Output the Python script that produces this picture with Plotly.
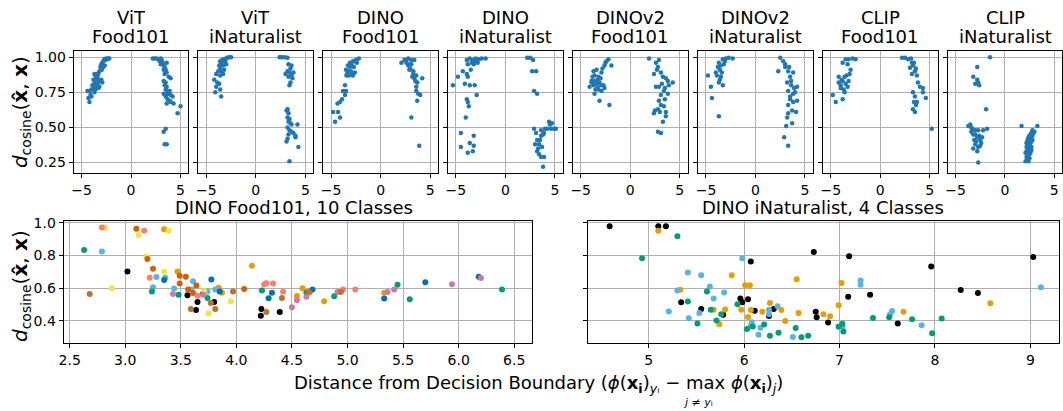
import plotly.graph_objects as go

# ---------------- data ----------------
panel_titles = [("ViT", "Food101"), ("ViT", "iNaturalist"), ("DINO", "Food101"), ("DINO", "iNaturalist"),
                ("DINOv2", "Food101"), ("DINOv2", "iNaturalist"), ("CLIP", "Food101"), ("CLIP", "iNaturalist")]

vit_food_x = [-2.2,-2.3,-2.4,-2.5,-2.6,-2.7,-2.8,-2.9,-2.65,-2.8,-3.0,-3.1,-2.95,-3.2,-3.3,-3.5,-3.6,-3.7,-3.4,-3.5,-3.2,-3.0,-2.9,-3.3,-3.6,-3.8,-3.4,-3.7,-3.9,-3.5,-3.3,-3.6,-3.8,-4.0,-4.2,-4.4,-3.7,-3.2,-4.1,-4.0,-4.3,-4.2,
              2.2,2.4,2.6,2.8,3.0,3.1,2.9,3.2,3.0,3.3,3.4,3.6,3.5,3.3,3.6,3.4,3.8,4.0,3.3,3.5,3.4,3.6,3.5,3.7,3.9,3.3,3.6,3.8,4.0,4.2,3.5,3.7,3.9,4.0,3.6,4.3,5.0,4.7,3.5,3.3,3.6,3.4]
vit_food_y = [0.99,0.99,0.985,0.99,0.98,0.985,0.97,0.96,0.94,0.93,0.95,0.93,0.91,0.90,0.88,0.88,0.87,0.88,0.86,0.85,0.84,0.84,0.82,0.82,0.83,0.84,0.80,0.81,0.80,0.79,0.78,0.77,0.78,0.77,0.76,0.76,0.75,0.79,0.73,0.72,0.71,0.68,
              0.99,0.99,0.99,0.985,0.99,0.98,0.97,0.96,0.95,0.94,0.93,0.96,0.91,0.91,0.89,0.88,0.86,0.85,0.83,0.82,0.80,0.79,0.77,0.76,0.76,0.74,0.74,0.74,0.73,0.72,0.72,0.70,0.69,0.68,0.67,0.67,0.65,0.60,0.49,0.47,0.38,0.38]

vit_inat_x = [-2.5,-2.7,-2.9,-3.0,-3.2,-3.4,-3.6,-3.3,-3.1,-3.5,-3.7,-3.3,-3.0,-3.6,-3.2,-3.5,-3.8,-3.3,-4.0,-3.6,-4.2,-3.9,-3.7,-4.0,-3.6,-4.1,-3.5,
              2.4,2.6,2.9,3.2,3.3,3.6,3.5,3.2,3.4,3.8,3.0,3.6,3.3,3.7,3.5,3.4,3.2,3.1,3.3,3.2,3.4,3.3,3.5,3.6,4.2,3.2,3.4,3.6,3.8,3.3,4.0,3.2,3.1,4.0,4.3,3.4]
vit_inat_y = [1.0,1.0,0.995,0.99,0.985,0.98,0.97,0.97,0.97,0.95,0.94,0.94,0.95,0.92,0.91,0.90,0.90,0.88,0.88,0.87,0.84,0.82,0.81,0.79,0.77,0.75,0.72,
              1.0,1.0,1.0,0.995,0.95,0.94,0.92,0.90,0.89,0.89,0.88,0.87,0.86,0.85,0.82,0.80,0.63,0.62,0.60,0.57,0.56,0.54,0.53,0.52,0.52,0.50,0.48,0.47,0.46,0.45,0.44,0.42,0.40,0.43,0.36,0.26]

dino_food_x = [-4.8,-4.6,-4.1,-4.3,-4.35,-4.1,-3.9,-3.6,-3.8,-3.5,-3.6,-3.45,-3.3,-3.1,-2.95,-2.8,-2.5,-2.2,-2.6,-2.9,-3.3,-3.5,-3.2,-2.7,-2.4,-3.0,-3.4,-2.8,-3.1,-2.6,
               2.1,2.4,2.6,2.8,3.1,3.4,2.8,3.1,2.6,3.0,3.3,2.9,3.6,3.2,3.4,3.7,3.5,3.6,3.6,4.0,4.2,3.7,3.8,3.1,3.9,3.3,2.9]
dino_food_y = [0.61,0.54,0.57,0.61,0.67,0.68,0.70,0.73,0.76,0.76,0.80,0.87,0.90,0.93,0.95,0.97,0.98,0.99,0.89,0.88,0.94,0.91,0.87,0.93,0.96,0.90,0.88,0.87,0.96,0.97,
               0.96,0.98,0.98,0.99,0.98,0.98,0.94,0.95,0.96,0.92,0.90,0.91,0.87,0.86,0.85,0.82,0.83,0.79,0.76,0.73,0.85,0.69,0.74,0.57,0.37,0.88,0.95]

dino_inat_x = [-3.9,-3.6,-3.3,-3.0,-2.7,-2.4,-2.0,-3.8,-3.4,-3.1,-2.8,-4.3,-4.8,-5.3,-3.9,-3.8,-4.1,-3.6,-3.1,-2.9,-3.9,-3.8,-3.7,-4.0,-4.5,-4.5,-3.8,-3.6,-3.2,-3.3,-3.2,-3.5,-3.2,
               2.2,2.5,2.8,2.7,3.1,2.9,3.2,2.9,3.6,4.2,4.7,5.1,4.4,3.9,3.6,3.2,3.4,3.7,3.2,3.6,3.8,3.9,3.1,4.6,4.9,4.5,4.0,3.5,3.3,3.8,3.4,3.0]
dino_inat_y = [0.98,0.99,0.98,0.99,0.985,0.99,0.99,0.95,0.96,0.97,0.96,0.90,0.86,0.80,0.88,0.86,0.81,0.80,0.80,0.73,0.70,0.68,0.65,0.57,0.46,0.36,0.32,0.39,0.44,0.33,0.37,0.91,0.95,
               0.995,0.995,0.98,0.90,0.90,0.76,0.74,0.49,0.48,0.49,0.53,0.49,0.54,0.46,0.44,0.41,0.38,0.36,0.33,0.29,0.22,0.29,0.46,0.49,0.49,0.52,0.49,0.41,0.35,0.45,0.31,0.38]

dinov2_food_x = [-4.1,-3.7,-3.6,-3.4,-3.2,-3.9,-3.7,-3.1,-2.7,-2.9,-2.6,-2.2,-2.5,-1.9,-2.1,-3.1,-3.6,-3.2,-3.4,-2.9,-3.8,-3.9,-2.6,-3.3,-3.0,-3.5,-2.8,-3.0,-2.4,-3.6,-3.3,
                 1.9,2.9,2.6,2.8,2.4,3.1,3.3,3.8,4.3,3.9,2.9,2.6,3.4,3.1,3.8,3.1,3.4,2.8,2.4,2.5,3.6,3.3,2.8,3.1,3.6,2.7,3.6,3.2,3.5,2.9,3.0,3.5]
dinov2_food_y = [0.79,0.90,0.87,0.91,0.86,0.83,0.80,0.82,0.80,0.76,0.94,0.985,0.96,0.94,0.66,0.69,0.74,0.77,0.81,0.89,0.86,0.82,0.78,0.84,0.85,0.77,0.92,0.80,0.97,0.83,0.78,
                 0.99,0.98,0.96,0.93,0.88,0.89,0.86,0.83,0.82,0.80,0.79,0.79,0.76,0.73,0.74,0.66,0.65,0.63,0.60,0.62,0.58,0.54,0.47,0.46,0.61,0.91,0.85,0.81,0.70,0.69,0.61,0.78]

dinov2_inat_x = [-4.8,-4.5,-4.4,-3.7,-4.0,-3.8,-3.7,-3.3,-3.0,-2.7,-2.3,-3.5,-3.3,-3.7,-3.6,-3.2,-3.9,-3.5,-3.4,-3.1,-3.6,
                 2.5,2.8,3.0,2.3,3.3,3.8,3.5,3.2,3.6,4.2,3.3,3.8,3.5,4.2,3.8,3.3,3.7,3.3,4.1,3.2,3.7,3.1,2.9,3.3,3.6,3.0,3.4,3.9,3.5,4.0]
dinov2_inat_y = [0.87,0.79,0.71,0.58,0.89,0.93,0.96,0.985,0.99,0.995,0.99,0.86,0.80,0.82,0.91,0.95,0.87,0.94,0.89,0.97,0.84,
                 0.995,0.97,0.93,0.90,0.90,0.89,0.86,0.82,0.83,0.79,0.76,0.74,0.72,0.69,0.68,0.66,0.62,0.60,0.61,0.57,0.53,0.51,0.43,0.37,0.80,0.95,0.93,0.78,0.70,0.75]

clip_food_x = [-4.8,-4.5,-3.8,-4.2,-4.2,-4.0,-3.8,-3.7,-3.5,-3.3,-3.6,-3.2,-3.4,-3.0,-3.8,-3.5,-3.2,-2.8,-2.5,-3.3,-3.9,-3.6,-4.0,-3.1,
               2.2,2.5,2.8,3.2,3.3,3.0,3.5,3.2,3.7,3.8,4.0,4.3,4.6,4.3,3.3,3.5,3.4,3.7,3.3,3.5,5.2,3.6,3.4,3.6,3.1]
clip_food_y = [0.73,0.68,0.70,0.86,0.82,0.80,0.83,0.77,0.81,0.79,0.86,0.83,0.87,0.91,0.96,0.985,0.985,0.99,0.985,0.95,0.84,0.75,0.78,0.88,
               0.995,0.995,0.985,0.96,0.94,0.925,0.90,0.88,0.87,0.82,0.79,0.78,0.71,0.75,0.75,0.72,0.68,0.68,0.63,0.61,0.49,0.66,0.96,0.92,0.99]

clip_inat_x = [-1.5,-2.8,-3.2,-2.8,-2.7,-2.6,-3.0,-1.9,
               -3.5,-3.3,-3.0,-2.7,-2.2,-1.8,-3.2,-2.8,-2.5,-3.0,-2.7,-2.4,-2.8,-2.7,-3.7,-3.4,-3.0,-2.3,-2.9,-3.1,-2.6,-3.4,-2.5,-3.2,
               1.7,3.3,2.8,2.7,2.5,2.3,2.2,2.4,2.7,2.2,2.5,2.2,2.1,2.4,2.6,2.8,2.4,2.5,2.3,2.9,3.0,2.6,2.4,2.6,2.7,2.2,2.3,2.5,2.6,2.8,2.3,2.4,2.7,2.1]
clip_inat_y = [1.0,0.93,0.86,0.84,0.82,0.80,0.81,0.63,
               0.52,0.49,0.48,0.48,0.48,0.49,0.45,0.43,0.41,0.38,0.36,0.39,0.33,0.25,0.51,0.47,0.45,0.43,0.40,0.41,0.44,0.50,0.37,0.35,
               0.51,0.51,0.48,0.46,0.44,0.41,0.39,0.38,0.36,0.33,0.31,0.29,0.26,0.26,0.42,0.44,0.35,0.34,0.37,0.46,0.47,0.32,0.30,0.39,0.40,0.36,0.31,0.28,0.45,0.41,0.27,0.43,0.34,0.32]

top_x = [vit_food_x, vit_inat_x, dino_food_x, dino_inat_x, dinov2_food_x, dinov2_inat_x, clip_food_x, clip_inat_x]
top_y = [vit_food_y, vit_inat_y, dino_food_y, dino_inat_y, dinov2_food_y, dinov2_inat_y, clip_food_y, clip_inat_y]

# DINO Food101, 10 classes
food_x = [2.63,2.79,2.82,2.79,2.68,2.88,3.02,3.10,3.12,3.17,3.19,3.20,3.22,3.25,3.25,3.24,3.28,3.35,3.39,3.35,3.36,3.35,3.43,3.44,3.47,3.49,3.49,3.48,3.545,3.566,
          3.56,3.61,3.59,3.595,3.61,3.637,3.64,3.65,3.65,3.70,3.70,3.71,3.74,3.74,3.75,3.775,3.77,3.80,3.81,3.81,3.84,3.85,3.87,3.95,3.97,4.07,4.14,4.22,4.225,4.23,
          4.25,4.27,4.27,4.33,4.29,4.32,4.39,4.42,4.41,4.50,4.545,4.545,4.595,4.63,4.63,4.65,4.66,4.685,4.79,4.88,4.91,4.94,4.96,5.07,5.33,5.33,5.36,5.42,5.45,5.56,
          5.70,5.94,6.18,6.20,6.39]
food_y = [0.832,0.97,0.97,0.824,0.564,0.60,0.702,0.962,0.924,0.95,0.792,0.778,0.664,0.718,0.606,0.58,0.668,0.96,0.95,0.70,0.664,0.65,0.564,0.598,0.702,0.676,0.628,0.56,0.67,0.592,
          0.556,0.642,0.472,0.592,0.57,0.466,0.616,0.516,0.554,0.564,0.56,0.582,0.58,0.54,0.446,0.652,0.51,0.516,0.472,0.592,0.602,0.58,0.572,0.52,0.58,0.594,0.736,0.432,0.472,0.586,
          0.622,0.63,0.454,0.628,0.538,0.572,0.454,0.578,0.54,0.484,0.552,0.526,0.60,0.574,0.548,0.578,0.574,0.592,0.52,0.55,0.576,0.576,0.592,0.592,0.536,0.572,0.576,0.592,0.62,0.532,
          0.636,0.624,0.67,0.662,0.592]
food_cls = [3,8,4,2,9,4,0,6,4,8,4,6,8,6,2,3,2,1,4,4,2,5,7,2,1,6,6,3,6,6,
            0,2,9,2,6,0,6,0,8,0,7,4,2,3,4,5,9,0,9,2,1,5,1,4,9,6,1,0,0,3,
            8,8,9,8,5,5,0,8,9,7,1,7,1,3,7,9,1,5,1,3,7,9,8,8,5,1,7,7,3,3,
            5,7,5,7,3]

# DINO iNaturalist, 4 classes
inat_x = [4.59,5.10,5.18,5.10,5.30,4.93,5.98,6.07,6.73,7.10,7.96,9.03,5.41,5.55,5.87,6.55,5.64,6.01,6.06,5.33,
          5.30,5.61,5.79,5.34,5.41,5.68,5.55,5.65,5.68,5.80,5.21,5.53,5.76,5.78,5.42,5.71,5.74,5.51,5.93,5.96,
          5.98,5.97,6.04,6.04,6.07,6.11,6.08,6.07,6.09,6.03,6.15,6.17,6.21,6.19,6.27,6.26,6.31,6.35,6.26,6.26,
          6.39,6.43,6.27,6.36,6.54,6.51,6.60,6.67,6.57,6.75,6.76,6.83,6.90,6.88,6.99,7.02,7.09,6.99,7.03,7.03,
          7.04,7.22,7.22,7.32,7.35,7.52,7.53,7.55,7.61,7.67,7.76,7.86,7.97,8.07,8.27,8.45,8.58,9.11]
inat_y = [0.978,0.978,0.978,0.95,0.916,0.782,0.782,0.762,0.82,0.794,0.732,0.79,0.696,0.678,0.678,0.654,0.61,0.618,0.618,0.59,
          0.586,0.58,0.574,0.514,0.518,0.536,0.472,0.468,0.468,0.47,0.458,0.448,0.44,0.438,0.416,0.402,0.38,0.384,0.502,0.536,
          0.514,0.468,0.532,0.424,0.466,0.462,0.392,0.37,0.366,0.35,0.316,0.358,0.378,0.456,0.51,0.468,0.472,0.49,0.44,0.43,
          0.466,0.40,0.31,0.328,0.356,0.302,0.30,0.31,0.448,0.456,0.422,0.44,0.428,0.39,0.496,0.632,0.548,0.364,0.382,0.366,
          0.336,0.646,0.62,0.56,0.418,0.422,0.44,0.46,0.384,0.456,0.41,0.374,0.324,0.414,0.588,0.57,0.508,0.606]
inat_cls = [0,0,0,1,3,3,2,0,0,0,0,0,2,2,1,1,2,1,1,1,
            2,3,2,0,3,2,0,3,1,1,2,2,3,0,2,3,1,3,3,0,
            0,1,0,1,1,0,2,2,3,3,2,2,3,1,1,2,0,2,2,0,
            1,1,3,3,3,2,3,3,1,0,0,1,1,0,1,1,0,3,3,2,
            3,2,2,0,3,3,2,2,0,1,3,2,3,3,0,0,1,2]

palette = ["#000000", "#E69F00", "#56B4E9", "#009E73", "#F0E442",
           "#0072B2", "#D55E00", "#CC79A7", "#FA7F72", "#B8732E"]

# ---------------- figure ----------------
W, H = 1063, 411
FONT = "DejaVu Sans"
fig = go.Figure()

def xdom(l, r):
    return [max(0, l / W), min(1, r / W)]

def ydom(t, b):
    return [1 - b / H, 1 - t / H]

axis_style = dict(showline=True, linecolor="black", linewidth=1, mirror=True,
                  ticks="outside", ticklen=4, tickcolor="black", tickwidth=1,
                  showgrid=True, gridcolor="#b0b0b0", gridwidth=1, zeroline=False,
                  tickfont=dict(family=FONT, size=14, color="black"))

layout = {}
annotations = []
lefts = [69, 194.5, 320, 445.5, 571, 697, 822.5, 948]
pw = 115.5
for i in range(8):
    n = i + 1
    xa = "x" if n == 1 else f"x{n}"
    ya = "y" if n == 1 else f"y{n}"
    fig.add_trace(go.Scatter(x=top_x[i], y=top_y[i], mode="markers", xaxis=xa, yaxis=ya,
                             marker=dict(size=4.5, color="#1f77b4"), showlegend=False))
    layout["xaxis" if n == 1 else f"xaxis{n}"] = dict(
        domain=xdom(lefts[i], lefts[i] + pw), anchor=ya, range=[-5.8, 5.8],
        tickvals=[-5, 0, 5], **axis_style)
    layout["yaxis" if n == 1 else f"yaxis{n}"] = dict(
        domain=ydom(45, 169), anchor=xa, range=[0.175, 1.042],
        tickvals=[0.25, 0.5, 0.75, 1.0], tickformat=".2f", showticklabels=(n == 1), **axis_style)
    cx = (lefts[i] + pw / 2) / W
    annotations.append(dict(text=panel_titles[i][0], x=cx, y=1 - 10.5 / H, xref="paper", yref="paper",
                            showarrow=False, xanchor="center", yanchor="middle",
                            font=dict(family=FONT, size=18, color="black")))
    annotations.append(dict(text=panel_titles[i][1], x=cx, y=1 - 30 / H, xref="paper", yref="paper",
                            showarrow=False, xanchor="center", yanchor="middle",
                            font=dict(family=FONT, size=18, color="black")))

# bottom panels
bl_l, bl_r = 59, 530
br_l, br_r = 586, 1060
for c in range(10):
    xs = [food_x[k] for k in range(len(food_x)) if food_cls[k] == c]
    ys = [food_y[k] for k in range(len(food_y)) if food_cls[k] == c]
    fig.add_trace(go.Scatter(x=xs, y=ys, mode="markers", xaxis="x9", yaxis="y9",
                             marker=dict(size=6, color=palette[c]), showlegend=False))
for c in range(4):
    xs = [inat_x[k] for k in range(len(inat_x)) if inat_cls[k] == c]
    ys = [inat_y[k] for k in range(len(inat_y)) if inat_cls[k] == c]
    fig.add_trace(go.Scatter(x=xs, y=ys, mode="markers", xaxis="x10", yaxis="y10",
                             marker=dict(size=6, color=palette[c]), showlegend=False))

layout["xaxis9"] = dict(domain=xdom(bl_l, bl_r), anchor="y9", range=[2.446, 6.66],
                        tickvals=[2.5, 3.0, 3.5, 4.0, 4.5, 5.0, 5.5, 6.0, 6.5], tickformat=".1f", **axis_style)
layout["yaxis9"] = dict(domain=ydom(218, 342), anchor="x9", range=[0.264, 1.008],
                        tickvals=[0.4, 0.6, 0.8, 1.0], tickformat=".1f", **axis_style)
layout["xaxis10"] = dict(domain=xdom(br_l, br_r), anchor="y10", range=[4.36, 9.30],
                         tickvals=[5, 6, 7, 8, 9], **axis_style)
layout["yaxis10"] = dict(domain=ydom(218, 342), anchor="x10", range=[0.264, 1.008],
                         tickvals=[0.4, 0.6, 0.8, 1.0], showticklabels=False, **axis_style)

annotations.append(dict(text="DINO Food101, 10 Classes", x=((bl_l + bl_r) / 2 - 4) / W, y=1 - 203.5 / H,
                        xref="paper", yref="paper", showarrow=False, xanchor="center", yanchor="middle",
                        font=dict(family=FONT, size=18, color="black")))
annotations.append(dict(text="DINO iNaturalist, 4 Classes", x=((br_l + br_r) / 2) / W, y=1 - 203.5 / H,
                        xref="paper", yref="paper", showarrow=False, xanchor="center", yanchor="middle",
                        font=dict(family=FONT, size=18, color="black")))

ylab = "<i>d</i><sub>cosine</sub>(<b>x\u0302</b>, <b>x</b>)"
annotations.append(dict(text=ylab, x=16 / W, y=1 - 107 / H, xref="paper", yref="paper", showarrow=False,
                        textangle=-90, xanchor="center", yanchor="middle",
                        font=dict(family=FONT, size=20, color="black")))
annotations.append(dict(text=ylab, x=16 / W, y=1 - 284 / H, xref="paper", yref="paper", showarrow=False,
                        textangle=-90, xanchor="center", yanchor="middle",
                        font=dict(family=FONT, size=20, color="black")))

xlab = ("Distance from Decision Boundary (<i>\u03d5</i>(<b>x</b><sub><b>i</b></sub>)<sub><i>y</i>\u1d62</sub>"
        " \u2212 max <i>\u03d5</i>(<b>x</b><sub><b>i</b></sub>)<sub><i>j</i></sub>)")
annotations.append(dict(text=xlab, x=537 / W, y=1 - 384 / H, xref="paper", yref="paper", showarrow=False,
                        xanchor="center", yanchor="middle", font=dict(family=FONT, size=18, color="black")))
annotations.append(dict(text="<i>j</i> \u2260 <i>y</i>\u1d62", x=697 / W, y=1 - 402 / H, xref="paper", yref="paper",
                        showarrow=False, xanchor="center", yanchor="middle",
                        font=dict(family=FONT, size=11, color="black")))

fig.update_layout(width=W, height=H, margin=dict(l=0, r=0, t=0, b=0),
                  paper_bgcolor="white", plot_bgcolor="white",
                  font=dict(family=FONT, color="black"),
                  annotations=annotations, **layout)

fig.write_html("out.html")
